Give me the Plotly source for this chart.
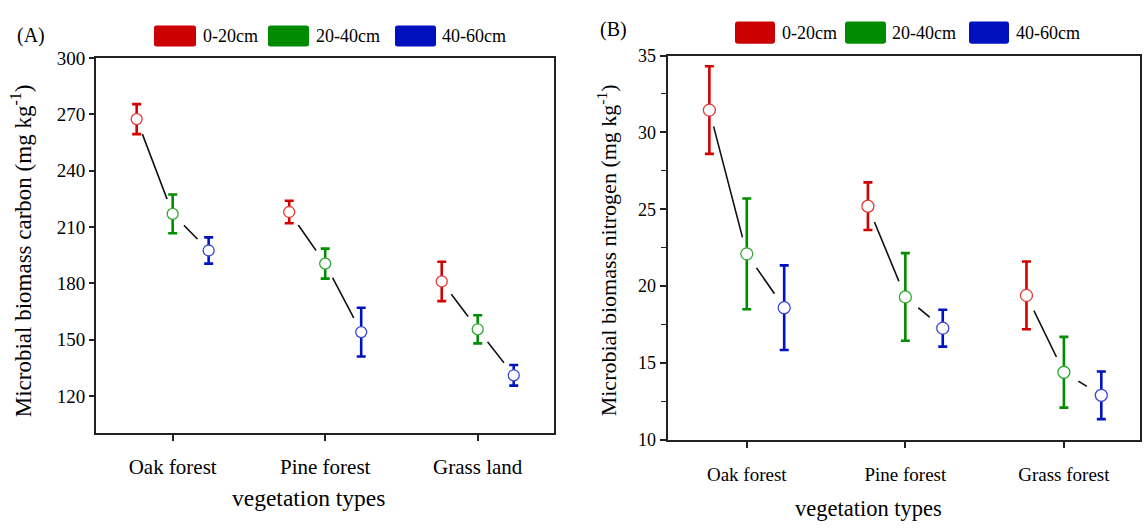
import plotly.graph_objects as go

# ---------------- data ----------------
categories_a = ["Oak forest", "Pine forest", "Grass land"]
categories_b = ["Oak forest", "Pine forest", "Grass forest"]
depths = ["0-20cm", "20-40cm", "40-60cm"]

mbc_0_20 = [267.5, 218.0, 181.0]
mbc_0_20_err = [8.0, 6.0, 10.5]
mbc_20_40 = [217.0, 190.5, 155.5]
mbc_20_40_err = [10.3, 8.0, 7.5]
mbc_40_60 = [197.5, 154.0, 131.0]
mbc_40_60_err = [7.0, 13.0, 5.5]

mbn_0_20 = [31.45, 25.2, 19.4]
mbn_0_20_err = [2.85, 1.55, 2.2]
mbn_20_40 = [22.1, 19.3, 14.4]
mbn_20_40_err = [3.6, 2.85, 2.3]
mbn_40_60 = [18.6, 17.27, 12.9]
mbn_40_60_err = [2.75, 1.2, 1.55]

yticks_a = [120, 150, 180, 210, 240, 270, 300]

# ---------------- styling ----------------
W, H = 1147, 532
FONT = "Liberation Serif"
bar_colors = ["#D20000", "#008E00", "#0012C2"]
edge_colors = ["#E23A3A", "#2FA82F", "#3A46D6"]
box_colors = ["#CC0000", "#008C00", "#0010BE"]
AXC = "#222222"
OFFSET = 0.236


def px(x):
    return x / W


def py(y):
    return 1 - y / H


fig = go.Figure()


def add_panel(means, errs, xa, ya, msize, mask):
    n = len(means[0])
    xs = [[i + 1 + (j - 1) * OFFSET for i in range(n)] for j in range(3)]
    # connecting lines
    lx, ly = [], []
    for i in range(n):
        for j in range(3):
            lx.append(xs[j][i])
            ly.append(means[j][i])
        lx.append(None)
        ly.append(None)
    fig.add_trace(go.Scatter(x=lx, y=ly, mode="lines", xaxis=xa, yaxis=ya,
                             line=dict(color="#111111", width=1.6),
                             showlegend=False, hoverinfo="skip"))
    # white gap masks around points
    allx = [v for s in xs for v in s]
    ally = [v for s in means for v in s]
    fig.add_trace(go.Scatter(x=allx, y=ally, mode="markers", xaxis=xa, yaxis=ya,
                             marker=dict(size=mask, color="white", line=dict(width=0)),
                             showlegend=False, hoverinfo="skip"))
    for j in range(3):
        fig.add_trace(go.Scatter(
            x=xs[j], y=means[j], mode="markers", xaxis=xa, yaxis=ya,
            name=depths[j], showlegend=False,
            error_y=dict(type="data", array=errs[j], color=bar_colors[j],
                         thickness=2.6, width=4.5),
            marker=dict(symbol="circle", size=msize, color="white",
                        line=dict(color=edge_colors[j], width=1.3))))


add_panel([mbc_0_20, mbc_20_40, mbc_40_60],
          [mbc_0_20_err, mbc_20_40_err, mbc_40_60_err], "x", "y", 11, 32)
add_panel([mbn_0_20, mbn_20_40, mbn_40_60],
          [mbn_0_20_err, mbn_20_40_err, mbn_40_60_err], "x2", "y2", 12, 34)

common = dict(showline=True, linecolor=AXC, linewidth=1.6, mirror=True,
              showgrid=False, zeroline=False, ticks="outside",
              tickcolor=AXC, tickwidth=1.5, layer="above traces")

fig.update_layout(
    width=W, height=H, margin=dict(l=0, r=0, t=0, b=0),
    paper_bgcolor="white", plot_bgcolor="white",
    font=dict(family=FONT, color="black"),
    showlegend=False,
    xaxis=dict(domain=[px(96.4), px(554)], range=[0.5, 3.5], anchor="y",
               tickmode="array", tickvals=[1, 2, 3], ticktext=categories_a,
               ticklen=6, tickfont=dict(size=21), ticklabelstandoff=8, **common),
    yaxis=dict(domain=[py(440), py(50)], range=[100, 300], anchor="x",
               tickmode="array", tickvals=yticks_a, ticklen=5.5,
               tickfont=dict(size=19), **common),
    xaxis2=dict(domain=[px(667.5), px(1140)], range=[0.5, 3.48], anchor="y2",
                tickmode="array", tickvals=[1, 2, 3], ticktext=categories_b,
                ticklen=6, tickfont=dict(size=19), ticklabelstandoff=10, **common),
    yaxis2=dict(domain=[py(446.7), py(47.3)], range=[10, 35], anchor="x2",
                tickmode="linear", tick0=10, dtick=5, ticklen=6,
                tickfont=dict(size=18),
                minor=dict(ticks="outside", dtick=2.5, tick0=10, ticklen=5,
                           tickwidth=1.3, tickcolor=AXC),
                **common),
)

shapes = []
annotations = []


def rounded_rect(x0, x1, top, bot, r=2.5):
    X0, X1 = px(x0), px(x1)
    Y0, Y1 = py(bot), py(top)
    rx, ry = r / W, r / H
    return (f"M {X0 + rx},{Y0} L {X1 - rx},{Y0} Q {X1},{Y0} {X1},{Y0 + ry} "
            f"L {X1},{Y1 - ry} Q {X1},{Y1} {X1 - rx},{Y1} "
            f"L {X0 + rx},{Y1} Q {X0},{Y1} {X0},{Y1 - ry} "
            f"L {X0},{Y0 + ry} Q {X0},{Y0} {X0 + rx},{Y0} Z")


# legends (drawn as boxes + labels)
legend_a = [(154, 196, 201), (268, 309, 314), (395, 436, 440)]
legend_b = [(735, 775, 780), (845, 886, 890), (969, 1009, 1013.5)]
for (items, top, bot) in [(legend_a, 16, 38), (legend_b, 12, 35)]:
    for j, (x0, x1, tx) in enumerate(items):
        shapes.append(dict(type="path", xref="paper", yref="paper",
                           path=rounded_rect(x0, x1, top, bot),
                           fillcolor=box_colors[j], line=dict(width=0)))
        annotations.append(dict(text=depths[j], xref="paper", yref="paper",
                                x=px(tx), y=py((top + bot) / 2), xanchor="left",
                                yanchor="middle", showarrow=False,
                                font=dict(size=18, family=FONT)))

# panel labels
annotations.append(dict(text="(A)", xref="paper", yref="paper", x=px(31), y=py(27),
                        xanchor="center", yanchor="middle", showarrow=False,
                        font=dict(size=20, family=FONT)))
annotations.append(dict(text="(B)", xref="paper", yref="paper", x=px(613), y=py(20),
                        xanchor="center", yanchor="middle", showarrow=False,
                        font=dict(size=20, family=FONT)))

# axis titles
annotations.append(dict(text="vegetation types", xref="paper", yref="paper",
                        x=px(308.6), y=py(506.7), xanchor="center", yanchor="middle",
                        showarrow=False, font=dict(size=23.5, family=FONT)))
annotations.append(dict(text="vegetation types", xref="paper", yref="paper",
                        x=px(868), y=py(518.3), xanchor="center", yanchor="middle",
                        showarrow=False, font=dict(size=22.5, family=FONT)))
annotations.append(dict(text="Microbial biomass carbon (mg kg<sup>-1</sup>)",
                        xref="paper", yref="paper", x=px(21.7), y=py(250),
                        xanchor="center", yanchor="middle", textangle=-90,
                        showarrow=False, font=dict(size=23, family=FONT)))
annotations.append(dict(text="Microbial biomass nitrogen (mg kg<sup>-1</sup>)",
                        xref="paper", yref="paper", x=px(606.7), y=py(250),
                        xanchor="center", yanchor="middle", textangle=-90,
                        showarrow=False, font=dict(size=22, family=FONT)))

fig.update_layout(shapes=shapes, annotations=annotations)

fig.write_html("out.html")
